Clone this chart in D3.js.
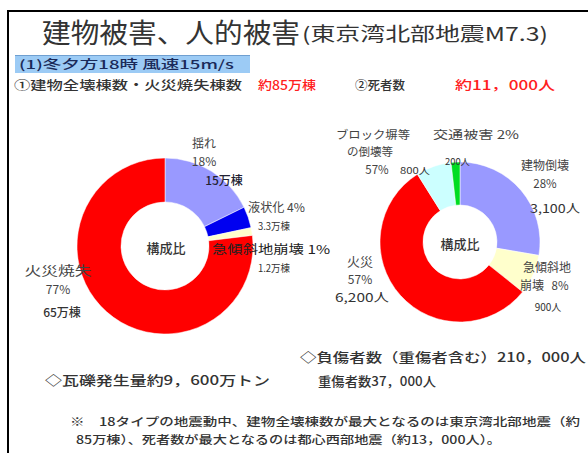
<!DOCTYPE html>
<html><head><meta charset="utf-8">
<script src="https://cdn.jsdelivr.net/npm/d3@7/dist/d3.min.js"></script>
<style>body{margin:0;background:#fff}svg{display:block}text{font-family:"Noto Sans CJK JP","Noto Sans",sans-serif}</style>
</head><body>
<script>
// ---- data ----
const buildingCats = ["揺れ", "液状化", "急傾斜地崩壊", "火災焼失"];
const buildingValues = [15, 3.3, 1.2, 65]; // 万棟
const buildingPct = ["18%", "4%", "1%", "77%"];
const buildingColors = ["#9999FF", "#0000F0", "#FFFFCC", "#FF0000"];

const deathCats = ["建物倒壊", "急傾斜地崩壊", "火災", "ブロック塀等の倒壊等", "交通被害"];
const deathValues = [3100, 900, 6200, 800, 200]; // 人
const deathPct = ["28%", "8%", "57%", "57%", "2%"];
const deathColors = ["#9999FF", "#FFFFCC", "#FF0000", "#CCFFFF", "#00DD22"];

const W = 588, H = 453;
const svg = d3.select("body").append("svg").attr("width", W).attr("height", H);

// frame
svg.append("line").attr("x1", 8).attr("x2", W).attr("y1", 11).attr("y2", 11).attr("stroke", "#000").attr("stroke-width", 2);
svg.append("line").attr("x1", 8).attr("x2", 8).attr("y1", 10).attr("y2", H).attr("stroke", "#000").attr("stroke-width", 2);

function txt(x, y, s, size, color, opts = {}) {
  const t = svg.append("text").attr("x", x).attr("y", y).text(s)
    .attr("font-size", size).attr("fill", color || "#333")
    .attr("text-anchor", opts.anchor || "start");
  if (opts.weight) t.attr("font-weight", opts.weight);
  if (opts.len) t.attr("textLength", opts.len).attr("lengthAdjust", "spacingAndGlyphs");
  return t;
}

// title
txt(42, 43, "建物被害、人的被害", 27, "#333", {len: 258});
txt(302, 41, "(東京湾北部地震M7.3)", 19, "#333", {len: 246});

// blue box
svg.append("rect").attr("x", 15).attr("y", 55).attr("width", 235).attr("height", 18).attr("fill", "#9CCBF5");
svg.append("line").attr("x1", 15).attr("x2", 250).attr("y1", 55.5).attr("y2", 55.5).attr("stroke", "#6F9FD0");
txt(19, 69, "(1)冬夕方18時  風速15m/s", 12, "#1a2a5a", {len: 215, weight: 500});

// line ①②
txt(14, 90, "①建物全壊棟数・火災焼失棟数", 12.5, "#333", {len: 228, weight: 500});
txt(258, 90, "約85万棟", 12.5, "#FF2020", {len: 58, weight: 500});
txt(355, 90, "②死者数", 12.5, "#333", {len: 50, weight: 500});
txt(455, 90, "約11，000人", 12.5, "#FF2020", {len: 100, weight: 500});

// donuts
function donut(cx, cy, rO, rI, vals, colors) {
  const pie = d3.pie().sort(null).value(d => d);
  const arc = d3.arc().innerRadius(rI).outerRadius(rO);
  const g = svg.append("g").attr("transform", `translate(${cx},${cy})`);
  g.selectAll("path").data(pie(vals)).join("path")
    .attr("d", arc).attr("fill", (d, i) => colors[i])
    .attr("stroke", "#fff").attr("stroke-width", 0.5);
  return g;
}
donut(165, 246, 88, 44, buildingValues, buildingColors);
donut(460, 242, 80, 37, deathValues, deathColors);

txt(166, 253, "構成比", 13, "#333", {anchor: "middle", weight: 500});
txt(460, 249, "構成比", 13, "#333", {anchor: "middle", weight: 500});

const lc = "#444";
// left labels
txt(204, 148, buildingCats[0], 12, lc, {anchor: "middle"});
txt(204, 166, buildingPct[0], 12, lc, {anchor: "middle"});
txt(224, 185, buildingValues[0] + "万棟", 12, "#223", {anchor: "middle", weight: 500});
txt(248, 212, buildingCats[1] + " " + buildingPct[1], 12, lc, {len: 57});
txt(258, 230, buildingValues[1] + "万棟", 10, "#333", {len: 32});
txt(212, 254, buildingCats[2] + " " + buildingPct[2], 12, "#222", {len: 118});
txt(258, 272, buildingValues[2] + "万棟", 10, "#333", {len: 32});
txt(58, 275, buildingCats[3], 13, lc, {anchor: "middle", len: 67});
txt(58, 294, buildingPct[3], 12, lc, {anchor: "middle"});
txt(62, 317, buildingValues[3] + "万棟", 12, "#333", {anchor: "middle", weight: 500});

// right labels
txt(373, 139, "ブロック塀等", 11.5, lc, {anchor: "middle", len: 74});
txt(370, 156, "の倒壊等", 11.5, lc, {anchor: "middle"});
txt(377, 174, deathPct[3], 11.5, lc, {anchor: "middle"});
txt(400, 174, deathValues[3] + "人", 9, "#333", {len: 30});
txt(433, 139, deathCats[4] + "  " + deathPct[4], 11.5, lc, {len: 86});
txt(445, 165, deathValues[4] + "人", 9, "#333", {len: 25});
txt(545, 170, deathCats[0], 12, lc, {anchor: "middle"});
txt(545, 188, deathPct[0], 11.5, lc, {anchor: "middle"});
txt(555, 213, "3,100人", 12, "#333", {anchor: "middle", len: 50});
txt(547, 272, "急傾斜地", 12, lc, {anchor: "middle"});
txt(520, 290, "崩壊", 12, lc);
txt(560, 290, deathPct[1], 11.5, lc, {anchor: "middle"});
txt(548, 311, deathValues[1] + "人", 10, "#333", {anchor: "middle"});
txt(360, 266, deathCats[2], 13, lc, {anchor: "middle"});
txt(360, 284, deathPct[2], 12, lc, {anchor: "middle"});
txt(362, 302, "6,200人", 12, "#333", {anchor: "middle", len: 54});

// bottom notes
txt(300, 362, "◇負傷者数（重傷者含む）210，000人", 13, "#333", {len: 286, weight: 500});
txt(318, 386, "重傷者数37，000人", 13, "#333", {len: 118, weight: 500});
txt(45, 385, "◇瓦礫発生量約9，600万トン", 13, "#333", {len: 225, weight: 500});
txt(70, 426, "※　18タイプの地震動中、建物全壊棟数が最大となるのは東京湾北部地震（約", 11.5, "#333", {len: 510, weight: 500});
txt(76, 444, "85万棟）、死者数が最大となるのは都心西部地震（約13，000人）。", 11.5, "#333", {len: 425, weight: 500});
</script>
</body></html>
